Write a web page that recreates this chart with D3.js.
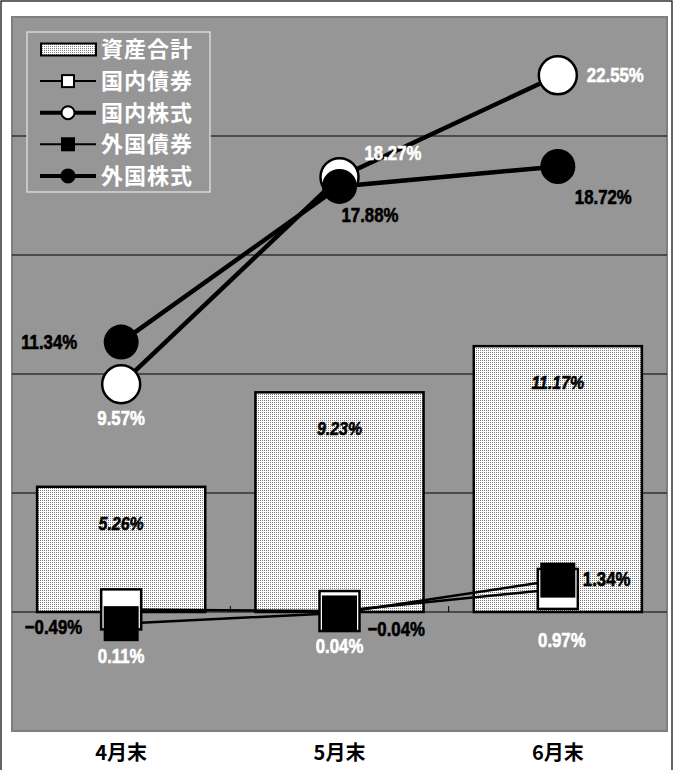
<!DOCTYPE html>
<html>
<head>
<meta charset="utf-8">
<script src="https://cdn.jsdelivr.net/npm/d3@7/dist/d3.min.js"></script>
<style>
  body { margin: 0; background: #fff; }
  svg { display: block; }
</style>
</head>
<body>
<div id="chart"></div>
<script>
// data
var categories = ["4月末", "5月末", "6月末"];
var totalAssets = [5.26, 9.23, 11.17];
var domesticBonds = [0.11, 0.04, 0.97];
var domesticStocks = [9.57, 18.27, 22.55];
var foreignBonds = [-0.49, -0.04, 1.34];
var foreignStocks = [11.34, 17.88, 18.72];
var yTicks = [0, 5, 10, 15, 20, 25];
var legendNames = ["資産合計", "国内債券", "国内株式", "外国債券", "外国株式"];

var width = 676, height = 770;
var plot = { left: 12, right: 667, top: 17, bottom: 731 };
var numFont = "'Liberation Sans', Arial, sans-serif";
var jpFont = "'Noto Sans CJK JP', sans-serif";
var squeeze = 0.84;  // the original numbers are set in a narrow face

var svg = d3.select("#chart").append("svg")
    .attr("width", width)
    .attr("height", height);

// dotted fill for the bars
var pat = svg.append("defs").append("pattern")
    .attr("id", "dots")
    .attr("width", 2).attr("height", 2)
    .attr("patternUnits", "userSpaceOnUse");
pat.append("rect").attr("width", 2).attr("height", 2).attr("fill", "#fff");
pat.append("rect").attr("x", 0).attr("y", 0).attr("width", 1).attr("height", 1).attr("fill", "#7a7a7a");

// outer frame
svg.append("rect")
    .attr("x", 1).attr("y", 1)
    .attr("width", 671).attr("height", height + 10)
    .attr("fill", "none").attr("stroke", "#000").attr("stroke-width", 1.2);

// scales
var x = d3.scaleBand()
    .domain(categories)
    .range([plot.left, plot.right])
    .paddingInner(0.23)
    .paddingOuter(0.115);
var y = d3.scaleLinear().domain([-5, 25]).range([plot.bottom, plot.top]);
var cx = function(i) { return x(categories[i]) + x.bandwidth() / 2; };

// narrow number label, a thin outline makes it as heavy as the original
function numLabel(g, px, py, str, anchor, color, size, italic) {
  g.append("text")
    .attr("transform", "translate(" + px + "," + py + ") scale(" + squeeze + ",1)")
    .attr("text-anchor", anchor)
    .style("font-family", numFont).style("font-size", size + "px")
    .style("font-weight", "bold").style("font-style", italic ? "italic" : "normal")
    .attr("fill", color)
    .attr("stroke", color).attr("stroke-width", 0.6)
    .text(str);
}

// plot area
svg.append("rect")
    .attr("x", plot.left).attr("y", plot.top)
    .attr("width", plot.right - plot.left).attr("height", plot.bottom - plot.top)
    .attr("fill", "#969696").attr("stroke", "#7f7f7f").attr("stroke-width", 2);

// gridlines
svg.append("g").selectAll("line")
    .data(yTicks.filter(function(d) { return d > 0 && d < 25; }))
    .enter().append("line")
    .attr("x1", plot.left).attr("x2", plot.right)
    .attr("y1", function(d) { return y(d); })
    .attr("y2", function(d) { return y(d); })
    .attr("stroke", "#000").attr("stroke-width", 1);

// bars
svg.append("g").selectAll("rect")
    .data(totalAssets)
    .enter().append("rect")
    .attr("x", function(d, i) { return x(categories[i]); })
    .attr("y", function(d) { return y(d); })
    .attr("width", x.bandwidth())
    .attr("height", function(d) { return y(0) - y(d); })
    .attr("fill", "url(#dots)")
    .attr("stroke", "#000").attr("stroke-width", 2.5);

// zero line and category ticks
svg.append("line")
    .attr("x1", plot.left).attr("x2", plot.right)
    .attr("y1", y(0)).attr("y2", y(0))
    .attr("stroke", "#000").attr("stroke-width", 1.2);
svg.append("g").selectAll("line")
    .data([1, 2])
    .enter().append("line")
    .attr("x1", function(d) { return plot.left + d * x.step(); })
    .attr("x2", function(d) { return plot.left + d * x.step(); })
    .attr("y1", y(0) - 6).attr("y2", y(0))
    .attr("stroke", "#000").attr("stroke-width", 1);

// bar labels
var barLabels = svg.append("g");
totalAssets.forEach(function(v, i) {
  numLabel(barLabels, cx(i), y(v) + 43, v.toFixed(2) + "%", "middle", "#000", 19, true);
});

// line series, label placement is [dx, dy, anchor] per point
var series = [
  { values: domesticBonds, width: 2.5, shape: "square", size: 40, fill: "#fff", stroke: "#000", labelColor: "#fff",
    place: [[0, 54, "middle"], [0, 42, "middle"], [4, 58, "middle"]] },
  { values: domesticStocks, width: 4.5, shape: "circle", size: 19, fill: "#fff", stroke: "#000", labelColor: "#fff",
    place: [[0, 41, "middle"], [25, -17, "start"], [29, 7, "start"]] },
  { values: foreignBonds, width: 2.5, shape: "square", size: 35, fill: "#000", stroke: "none", labelColor: "#000",
    place: [[-39, 10, "end"], [28, 23, "start"], [25, 6, "start"]] },
  { values: foreignStocks, width: 4.5, shape: "circle", size: 17.5, fill: "#000", stroke: "none", labelColor: "#000",
    place: [[-44, 7, "end"], [2, 36, "start"], [17, 38, "start"]] }
];

var line = d3.line()
    .x(function(d, i) { return cx(i); })
    .y(function(d) { return y(d); });

svg.append("g").selectAll("path")
    .data(series)
    .enter().append("path")
    .attr("d", function(s) { return line(s.values); })
    .attr("fill", "none")
    .attr("stroke", "#000")
    .attr("stroke-width", function(s) { return s.width; });

series.forEach(function(s) {
  var g = svg.append("g");
  s.values.forEach(function(v, i) {
    if (s.shape === "square") {
      g.append("rect")
        .attr("x", cx(i) - s.size / 2).attr("y", y(v) - s.size / 2)
        .attr("width", s.size).attr("height", s.size)
        .attr("fill", s.fill).attr("stroke", s.stroke).attr("stroke-width", 2.5);
    } else {
      g.append("circle")
        .attr("cx", cx(i)).attr("cy", y(v)).attr("r", s.size)
        .attr("fill", s.fill).attr("stroke", s.stroke).attr("stroke-width", 2.5);
    }
  });
});

var fmt = d3.format(".2f");
series.forEach(function(s) {
  var g = svg.append("g");
  s.values.forEach(function(v, i) {
    var p = s.place[i];
    numLabel(g, cx(i) + p[0], y(v) + p[1], fmt(v) + "%", p[2], s.labelColor, 20, false);
  });
});

// category axis below the plot
var xAxis = svg.append("g")
    .attr("transform", "translate(0," + plot.bottom + ")")
    .call(d3.axisBottom(x).tickSize(0).tickPadding(15));
xAxis.select(".domain").remove();
xAxis.selectAll("text")
    .style("font-family", jpFont).style("font-size", "20px").style("font-weight", "bold")
    .attr("fill", "#000");

// legend
var lg = svg.append("g");
lg.append("rect")
    .attr("x", 27).attr("y", 32).attr("width", 183).attr("height", 160)
    .attr("fill", "#969696").attr("stroke", "#e6e6e6").attr("stroke-width", 1.2);

var legendSymbols = [null, series[0], series[1], series[2], series[3]];
legendNames.forEach(function(name, i) {
  var ly = 49.5 + i * 31.6;
  if (i === 0) {
    lg.append("rect")
      .attr("x", 41).attr("y", ly - 6).attr("width", 55).attr("height", 12)
      .attr("fill", "url(#dots)").attr("stroke", "#000").attr("stroke-width", 2);
  } else {
    var s = legendSymbols[i];
    lg.append("line")
      .attr("x1", 40).attr("x2", 96).attr("y1", ly).attr("y2", ly)
      .attr("stroke", "#000").attr("stroke-width", s.width === 2.5 ? 2 : 4);
    if (s.shape === "square") {
      lg.append("rect")
        .attr("x", 62).attr("y", ly - 6).attr("width", 12).attr("height", 12)
        .attr("fill", s.fill).attr("stroke", "#000").attr("stroke-width", 2);
    } else {
      lg.append("circle")
        .attr("cx", 68).attr("cy", ly).attr("r", 6.5)
        .attr("fill", s.fill).attr("stroke", "#000").attr("stroke-width", 2);
    }
  }
  lg.append("text")
    .attr("x", 101).attr("y", ly)
    .attr("dy", "0.36em")
    .style("font-family", jpFont).style("font-size", "22px").style("font-weight", "bold")
    .style("letter-spacing", "1px")
    .attr("fill", "#fff")
    .text(name);
});
</script>
</body>
</html>
